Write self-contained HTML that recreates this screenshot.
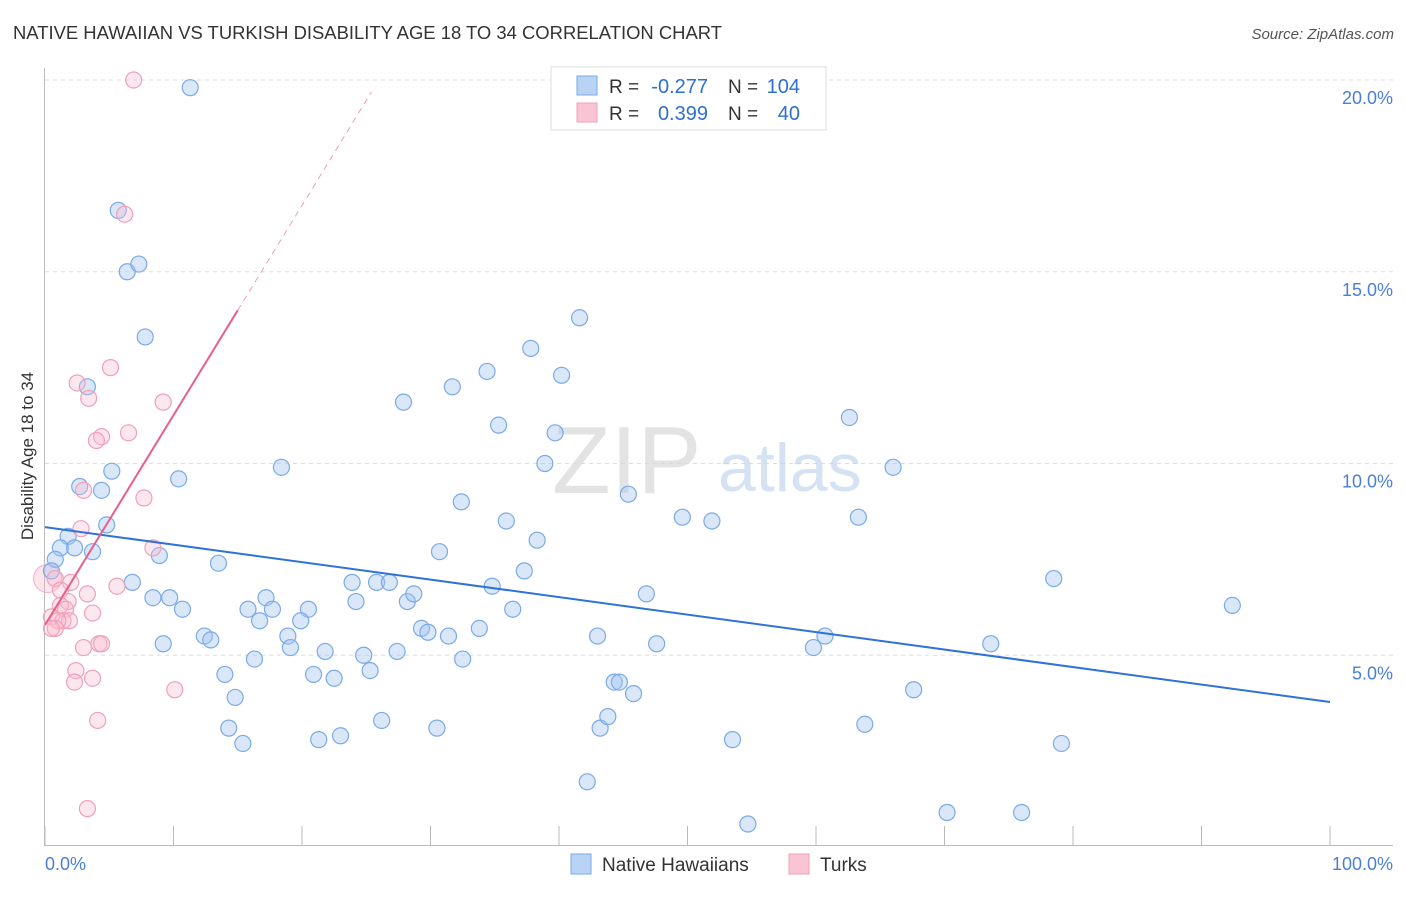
<!DOCTYPE html>
<html><head><meta charset="utf-8"><style>
body{margin:0;background:#fff;font-family:"Liberation Sans",sans-serif}
svg text{font-family:"Liberation Sans",sans-serif}
</style></head><body>
<svg id="chart" width="1406" height="892" viewBox="0 0 1406 892" xmlns="http://www.w3.org/2000/svg">
<text x="13" y="39" font-size="18.6" fill="#333" textLength="709" lengthAdjust="spacingAndGlyphs">NATIVE HAWAIIAN VS TURKISH DISABILITY AGE 18 TO 34 CORRELATION CHART</text>
<text x="1394" y="39" font-size="15" fill="#555" font-style="italic" text-anchor="end">Source: ZipAtlas.com</text>
<g id="grid"></g>
<g>
<text x="552" y="493" font-family="Liberation Serif,serif" font-size="96" fill="#d8d8d8" opacity="0.7">ZIP</text>
<text x="718" y="491" font-size="68" fill="#b8cfee" opacity="0.6">atlas</text>
</g>
<line x1="44.5" y1="68" x2="44.5" y2="845" stroke="#bbb"/>
<line x1="44" y1="845.5" x2="1393" y2="845.5" stroke="#bbb"/>
<g id="ticks"></g>
<g id="ylabels"></g>
<text x="45" y="870" font-size="18" fill="#4a7fd4">0.0%</text>
<text x="1393" y="870" font-size="18" fill="#4a7fd4" text-anchor="end">100.0%</text>
<text transform="translate(33,456) rotate(-90)" font-size="17" fill="#333" text-anchor="middle">Disability Age 18 to 34</text>
<g id="pts"></g>
<g id="trends"></g>
<g>
<rect x="551" y="67" width="275" height="63" fill="#fff" stroke="#ddd"/>
<rect x="577" y="76" width="20" height="19" fill="#b9d3f5" stroke="#7aaae8"/>
<rect x="577" y="103" width="20" height="19" fill="#f9c4d4" stroke="#f0a0b8"/>
<text x="609" y="93" font-size="19" fill="#333">R =</text>
<text x="708" y="93" font-size="20" fill="#2f6fd0" text-anchor="end">-0.277</text>
<text x="728" y="93" font-size="19" fill="#333">N =</text>
<text x="800" y="93" font-size="20" fill="#2f6fd0" text-anchor="end">104</text>
<text x="609" y="120" font-size="19" fill="#333">R =</text>
<text x="708" y="120" font-size="20" fill="#2f6fd0" text-anchor="end">0.399</text>
<text x="728" y="120" font-size="19" fill="#333">N =</text>
<text x="800" y="120" font-size="20" fill="#2f6fd0" text-anchor="end">40</text>
</g>
<g>
<rect x="571" y="854" width="20" height="20" fill="#b9d3f5" stroke="#7aaae8"/>
<text x="602" y="871" font-size="19" fill="#333">Native Hawaiians</text>
<rect x="789" y="854" width="20" height="20" fill="#f9c4d4" stroke="#f0a0b8"/>
<text x="820" y="871" font-size="19" fill="#333">Turks</text>
</g>
</svg>
<script>
const yTicks=[5,10,15,20];
const yTickLabels=["5.0%","10.0%","15.0%","20.0%"];
const xTicks=[0,10,20,30,40,50,60,70,80,90,100];
const blueX=[11.3,5.7,6.4,7.3,7.8,3.3,5.2,10.4,2.7,4.4,4.8,1.8,1.2,2.3,3.7,0.8,0.5,8.9,6.8,13.5,18.4,8.4,9.7,10.7,9.2,12.4,12.9,14.0,14.8,14.3,15.4,16.3,15.8,17.2,17.7,16.7,18.9,19.1,20.5,19.9,21.8,20.9,22.5,21.3,23.0,23.9,24.2,24.8,25.3,25.8,26.8,26.2,27.4,28.2,28.7,29.3,29.8,30.5,31.4,32.5,33.8,27.9,31.7,32.4,30.7,34.4,35.3,35.9,34.8,36.4,37.3,38.3,37.8,38.9,39.7,40.2,41.6,43.0,42.2,43.2,43.8,44.3,44.7,45.8,45.4,46.8,47.6,49.6,51.9,53.5,54.7,59.8,60.7,62.6,63.3,63.8,66.0,67.6,70.2,73.6,76.0,78.5,79.1,92.4];
const blueY=[19.8,16.6,15.0,15.2,13.3,12.0,9.8,9.6,9.4,9.3,8.4,8.1,7.8,7.8,7.7,7.5,7.2,7.6,6.9,7.4,9.9,6.5,6.5,6.2,5.3,5.5,5.4,4.5,3.9,3.1,2.7,4.9,6.2,6.5,6.2,5.9,5.5,5.2,6.2,5.9,5.1,4.5,4.4,2.8,2.9,6.9,6.4,5.0,4.6,6.9,6.9,3.3,5.1,6.4,6.6,5.7,5.6,3.1,5.5,4.9,5.7,11.6,12.0,9.0,7.7,12.4,11.0,8.5,6.8,6.2,7.2,8.0,13.0,10.0,10.8,12.3,13.8,5.5,1.7,3.1,3.4,4.3,4.3,4.0,9.2,6.6,5.3,8.6,8.5,2.8,0.6,5.2,5.5,11.2,8.6,3.2,9.9,4.1,0.9,5.3,0.9,7.0,2.7,6.3];
const pinkX=[6.9,6.2,5.1,2.5,3.4,9.2,4.4,6.5,4.0,3.0,7.7,2.8,8.4,0.8,2.0,5.6,1.2,3.3,1.8,1.2,1.6,3.7,0.5,1.4,1.9,1.0,0.8,0.5,3.0,4.2,4.4,2.4,3.7,2.3,10.1,4.1,3.3];
const pinkY=[20.0,16.5,12.5,12.1,11.7,11.6,10.7,10.8,10.6,9.3,9.1,8.3,7.8,7.0,6.9,6.8,6.7,6.6,6.4,6.3,6.2,6.1,6.0,5.9,5.9,5.9,5.7,5.7,5.2,5.3,5.3,4.6,4.4,4.3,4.1,3.3,1.0];
const blueTrend=[8.34,3.78];
const pinkTrend=[5.79,0.547];
const X0=45,X1=1330,Y0=847,YS=38.35;
const sx=v=>X0+v*(X1-X0)/100, sy=v=>Y0-v*YS;
const NS="http://www.w3.org/2000/svg";
function mk(tag,attrs,parent){const e=document.createElementNS(NS,tag);for(const k in attrs)e.setAttribute(k,attrs[k]);document.getElementById(parent).appendChild(e);return e;}
yTicks.forEach((t,i)=>{
 const g=mk('line',{x1:45,x2:1393,y1:sy(t),y2:sy(t),stroke:'#ddd','stroke-dasharray':'4,4'},'grid');
 
 
 const l=mk('text',{x:1393,y:sy(t)+24,'font-size':18,fill:'#4a7fd4','text-anchor':'end'},'ylabels');
 l.textContent=yTickLabels[i];
 
 
});
xTicks.forEach(t=>{
 const k=mk('line',{x1:sx(t),x2:sx(t),y1:826,y2:845,stroke:'#bbb'},'ticks');
 
 
});
let big=mk('circle',{cx:sx(0.2),cy:sy(7.0),r:14,fill:'rgba(245,180,200,0.35)',stroke:'#f3b0c4'},'pts');


blueX.forEach((x,i)=>{
 const c=mk('circle',{cx:sx(x),cy:sy(blueY[i]),r:8,fill:'rgba(160,195,240,0.4)',stroke:'#7aaae8','stroke-width':1.2},'pts');
 
 
});
pinkX.forEach((x,i)=>{
 const c=mk('circle',{cx:sx(x),cy:sy(pinkY[i]),r:8,fill:'rgba(248,185,205,0.35)',stroke:'#f0a0b8','stroke-width':1.2},'pts');
 
 
});
const bl=mk('line',{x1:sx(0),y1:sy(blueTrend[0]),x2:sx(100),y2:sy(blueTrend[1]),stroke:'#2f72d8','stroke-width':2},'trends');


const pf=x=>pinkTrend[0]+pinkTrend[1]*x;
const pl=mk('line',{x1:sx(0),y1:sy(pf(0)),x2:sx(15),y2:sy(pf(15)),stroke:'#e8608a','stroke-width':2},'trends');


const pd=mk('line',{x1:sx(15),y1:sy(pf(15)),x2:sx(25.4),y2:sy(pf(25.4)),stroke:'#eaa0b8','stroke-width':1,'stroke-dasharray':'6,5'},'trends');


</script>
</body></html>
